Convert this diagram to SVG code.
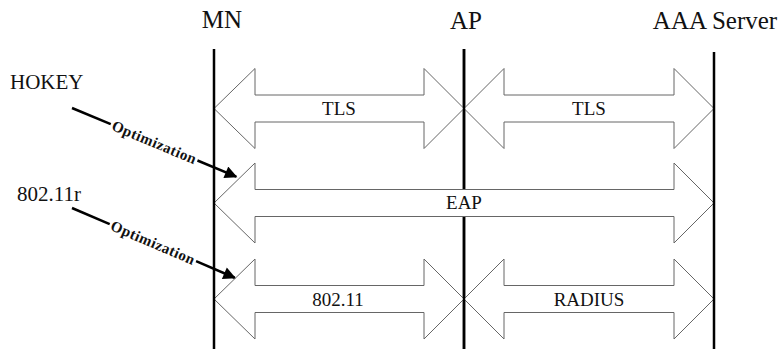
<svg xmlns="http://www.w3.org/2000/svg" width="784" height="349" viewBox="0 0 784 349">
<style>
.hdr{font-family:"Liberation Serif",serif;font-size:25px;fill:#111;text-anchor:middle}
.lbl{font-family:"Liberation Serif",serif;font-size:19px;fill:#111;text-anchor:middle}
.side{font-family:"Liberation Serif",serif;font-size:21px;fill:#111}
.opt{font-family:"Liberation Serif",serif;font-size:15px;font-weight:bold;fill:#111;text-anchor:middle}
.arr{fill:#fff;stroke:#666;stroke-width:1}
.life{stroke:#000;stroke-width:2.5}
.optl{stroke:#000;stroke-width:2.5;fill:none}
</style>
<defs>
<marker id="ah" viewBox="0 0 10 10" refX="9" refY="5" markerWidth="5.5" markerHeight="5" orient="auto" markerUnits="strokeWidth">
<path d="M0,0 L10,5 L0,10 Z" fill="#000"/>
</marker>
</defs>
<rect width="784" height="349" fill="#fff"/>
<g id="ap"><line class="life" x1="464" y1="49" x2="464" y2="349"/><text class="hdr" x="466" y="29">AP</text></g>
<g id="arrows">
<g id="tls1"><path class="arr" d="M214,108.5 L255,68.5 L255,95 L424,95 L424,68.5 L464,108.5 L424,148.5 L424,122 L255,122 L255,148.5 Z"/><text class="lbl" x="339" y="115">TLS</text></g>
<g id="tls2"><path class="arr" d="M464,108.5 L504,68.5 L504,95 L674,95 L674,68.5 L714,108.5 L674,148.5 L674,122 L504,122 L504,148.5 Z"/><text class="lbl" x="589" y="115">TLS</text></g>
<g id="eap"><path class="arr" d="M214,203 L255,163 L255,189.5 L674,189.5 L674,163 L714,203 L674,243 L674,216.5 L255,216.5 L255,243 Z"/><text class="lbl" x="464" y="209">EAP</text></g>
<g id="w80211"><path class="arr" d="M214,299 L255,259 L255,285.5 L424,285.5 L424,259 L464,299 L424,339 L424,312.5 L255,312.5 L255,339 Z"/><text class="lbl" x="338" y="306">802.11</text></g>
<g id="radius"><path class="arr" d="M464,299 L504,259 L504,285.5 L674,285.5 L674,259 L714,299 L674,339 L674,312.5 L504,312.5 L504,339 Z"/><text class="lbl" x="589" y="306">RADIUS</text></g>
</g>
<line class="life" x1="464" y1="49" x2="464" y2="189"/>
<line class="life" x1="464" y1="217" x2="464" y2="349"/>
<g id="mn"><line class="life" x1="214" y1="49" x2="214" y2="349"/><text class="hdr" x="222" y="28">MN</text></g>
<g id="aaa"><line class="life" x1="714" y1="52" x2="714" y2="349"/><text class="hdr" x="715" y="29">AAA Server</text></g>
<g id="hokey"><text class="side" x="10" y="89">HOKEY</text></g>
<g id="r80211"><text class="side" x="17" y="201">802.11r</text></g>
<g id="connectors">
<g transform="translate(72,108) rotate(22.7)">
<line class="optl" x1="0" y1="0" x2="42" y2="0"/>
<line class="optl" x1="136" y1="0" x2="178" y2="0" marker-end="url(#ah)"/>
<text class="opt" x="89" y="5" textLength="90">Optimization</text>
</g>
<g transform="translate(72,208) rotate(23.2)">
<line class="optl" x1="0" y1="0" x2="41" y2="0"/>
<line class="optl" x1="135" y1="0" x2="177" y2="0" marker-end="url(#ah)"/>
<text class="opt" x="88" y="5" textLength="90">Optimization</text>
</g>
</g>
</svg>
